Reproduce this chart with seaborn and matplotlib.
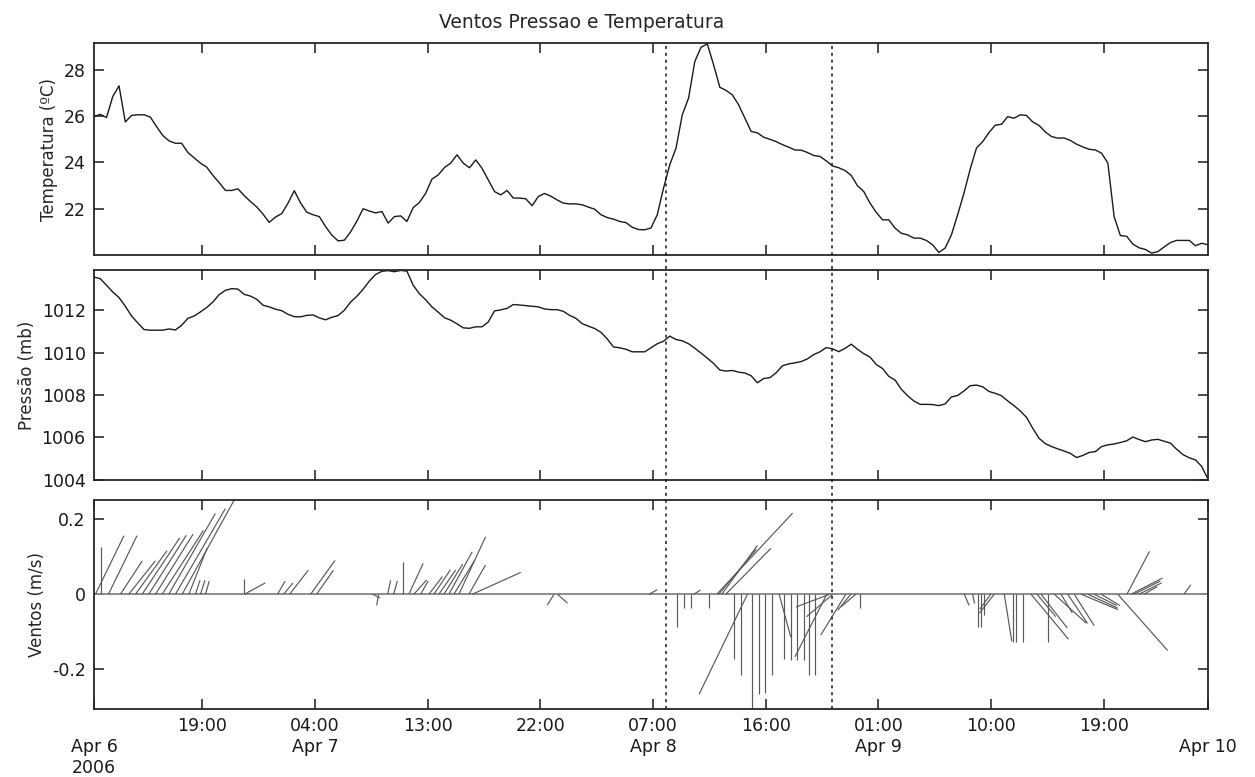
import numpy as np
import pandas as pd
import matplotlib
matplotlib.use("Agg")
import matplotlib.pyplot as plt
import matplotlib.dates as mdates
import matplotlib.transforms as mtransforms
from matplotlib.collections import LineCollection
from matplotlib.lines import Line2D
import seaborn as sns

# 30 min samples, Apr 6 2006 10:20 -> Apr 10 03:20
inicio = "2006-04-06 10:20"
n_amostras = 179

temperatura = [
    25.98, 26.08, 25.94, 26.85, 27.31, 25.75, 26.03, 26.06, 26.06, 25.96,
    25.55, 25.16, 24.93, 24.83, 24.83, 24.43, 24.20, 23.97, 23.80, 23.44,
    23.13, 22.79, 22.79, 22.86, 22.57, 22.31, 22.08, 21.77, 21.41, 21.64,
    21.79, 22.24, 22.78, 22.25, 21.85, 21.74, 21.66, 21.23, 20.86, 20.61,
    20.64, 21.00, 21.46, 22.00, 21.90, 21.82, 21.88, 21.38, 21.66, 21.69,
    21.45, 22.05, 22.27, 22.67, 23.28, 23.46, 23.78, 23.97, 24.33, 23.97,
    23.77, 24.11, 23.75, 23.25, 22.74, 22.60, 22.79, 22.46, 22.46, 22.43,
    22.13, 22.53, 22.66, 22.54, 22.38, 22.24, 22.21, 22.21, 22.17, 22.07,
    21.98, 21.74, 21.62, 21.55, 21.45, 21.40, 21.20, 21.10, 21.09, 21.17,
    21.74, 22.89, 23.90, 24.62, 26.06, 26.78, 28.36, 28.98, 29.12, 28.22,
    27.25, 27.11, 26.92, 26.49, 25.91, 25.34, 25.28, 25.09, 25.00, 24.90,
    24.77, 24.66, 24.54, 24.53, 24.43, 24.30, 24.26, 24.07, 23.85, 23.77,
    23.65, 23.44, 22.99, 22.74, 22.24, 21.84, 21.52, 21.52, 21.16, 20.94,
    20.87, 20.73, 20.73, 20.63, 20.44, 20.11, 20.30, 20.87, 21.74, 22.67,
    23.71, 24.62, 24.90, 25.29, 25.61, 25.65, 25.98, 25.91, 26.06, 26.03,
    25.75, 25.60, 25.32, 25.12, 25.05, 25.06, 24.95, 24.79, 24.67, 24.57,
    24.54, 24.40, 23.97, 21.66, 20.84, 20.81, 20.47, 20.31, 20.24, 20.08,
    20.15, 20.35, 20.54, 20.63, 20.63, 20.63, 20.40, 20.51, 20.44,
]

pressao = [
    1013.57, 1013.49, 1013.18, 1012.86, 1012.60, 1012.19, 1011.73, 1011.40, 1011.09, 1011.06,
    1011.06, 1011.06, 1011.12, 1011.07, 1011.29, 1011.62, 1011.73, 1011.92, 1012.13, 1012.39,
    1012.74, 1012.94, 1013.02, 1013.00, 1012.75, 1012.67, 1012.52, 1012.24, 1012.16, 1012.05,
    1011.98, 1011.81, 1011.70, 1011.69, 1011.76, 1011.78, 1011.64, 1011.55, 1011.67, 1011.75,
    1012.00, 1012.39, 1012.66, 1012.99, 1013.38, 1013.69, 1013.84, 1013.87, 1013.82, 1013.88,
    1013.85, 1013.18, 1012.78, 1012.49, 1012.16, 1011.91, 1011.65, 1011.53, 1011.36, 1011.17,
    1011.15, 1011.22, 1011.22, 1011.45, 1011.97, 1012.02, 1012.09, 1012.27, 1012.25, 1012.22,
    1012.19, 1012.16, 1012.06, 1012.03, 1012.03, 1011.95, 1011.76, 1011.62, 1011.37, 1011.25,
    1011.14, 1010.96, 1010.65, 1010.27, 1010.23, 1010.16, 1010.04, 1010.04, 1010.04, 1010.23,
    1010.42, 1010.54, 1010.78, 1010.62, 1010.56, 1010.42, 1010.21, 1009.98, 1009.74, 1009.49,
    1009.18, 1009.13, 1009.16, 1009.08, 1009.04, 1008.91, 1008.58, 1008.78, 1008.82, 1009.05,
    1009.38, 1009.47, 1009.52, 1009.58, 1009.71, 1009.91, 1010.04, 1010.24, 1010.18, 1010.05,
    1010.20, 1010.40, 1010.16, 1009.95, 1009.79, 1009.44, 1009.25, 1008.88, 1008.71, 1008.27,
    1007.97, 1007.72, 1007.56, 1007.56, 1007.55, 1007.50, 1007.58, 1007.91, 1007.98, 1008.19,
    1008.44, 1008.47, 1008.39, 1008.17, 1008.08, 1007.97, 1007.72, 1007.50, 1007.25, 1006.95,
    1006.43, 1005.96, 1005.71, 1005.57, 1005.46, 1005.36, 1005.25, 1005.05, 1005.15, 1005.29,
    1005.33, 1005.57, 1005.65, 1005.69, 1005.76, 1005.84, 1006.02, 1005.90, 1005.80, 1005.88,
    1005.91, 1005.82, 1005.73, 1005.44, 1005.19, 1005.04, 1004.94, 1004.63, 1004.03,
]

# wind sticks: hours since Apr 6 00:00, u and v components
vento_horas = [
    10.45, 10.93, 11.49, 12.45, 13.11, 13.65, 14.18, 14.71, 15.25, 15.78,
    16.31, 16.84, 17.38, 17.91, 18.44, 18.84, 19.24,
    22.28, 22.36, 25.00, 25.48, 25.96, 27.64, 28.12,
    32.59, 33.07, 33.79, 34.27, 34.99, 35.49, 35.89, 36.43, 37.09, 37.49,
    37.89, 38.29, 38.69, 39.09, 39.49, 40.29, 40.56,
    47.09, 47.36, 54.68,
    56.95, 57.48, 58.01, 58.25, 59.47, 60.09, 60.25, 60.49, 60.81, 61.47,
    62.01, 62.54, 62.94, 63.47, 63.95, 64.54, 65.07, 65.42, 66.01, 66.49,
    67.02, 67.47, 67.92, 68.88, 69.12, 69.36, 70.40, 70.80, 71.20, 71.55,
    79.86, 80.53, 80.98, 81.19, 81.41, 81.99, 82.26, 83.06, 83.73, 83.99,
    84.53, 85.19, 85.67, 85.99, 86.52, 87.05, 87.59, 88.12, 88.65, 89.19,
    89.72, 90.23, 90.79, 92.12, 92.86, 93.18, 93.42, 93.82, 94.22, 97.42,
]
vento_u = [
    0.076, 0.0, 0.076, 0.058, 0.071, 0.084, 0.10, 0.10, 0.10, 0.11,
    0.124, 0.133, 0.138, 0.049, 0.012, 0.012, 0.010,
    0.0, 0.055, 0.020, 0.025, 0.050, 0.065, 0.045,
    0.020, -0.005, 0.008, 0.010, 0.0, 0.038, 0.034, 0.020, 0.036, 0.044,
    0.045, 0.050, 0.062, 0.055, 0.071, 0.044, 0.129,
    -0.018, 0.027, 0.022,
    0.0, 0.0, 0.0, 0.018, 0.0, 0.202, 0.10, 0.095, 0.12, 0.0,
    0.0, -0.129, 0.0, 0.0, 0.0, 0.0, 0.031, 0.0, 0.0, 0.0,
    0.0, 0.0, 0.0, -0.085, -0.09, -0.07, -0.067, -0.035, -0.04, 0.0,
    0.013, 0.005, 0.0, 0.0, 0.0, -0.03, -0.04, 0.02, 0.0, 0.0,
    0.0, 0.10, 0.05, 0.07, 0.0, 0.085, 0.03, 0.053, 0.053, 0.098,
    0.08, 0.06, 0.05, 0.133, 0.06, 0.084, 0.07, 0.06, 0.035, 0.018,
]
vento_v = [
    0.156, 0.125, 0.156, 0.089, 0.089, 0.116, 0.15, 0.157, 0.16, 0.17,
    0.215, 0.228, 0.25, 0.123, 0.037, 0.037, 0.035,
    0.04, 0.03, 0.035, 0.03, 0.064, 0.09, 0.064,
    -0.01, -0.03, 0.037, 0.035, 0.087, 0.082, 0.038, 0.035, 0.047, 0.065,
    0.065, 0.08, 0.113, 0.09, 0.153, 0.078, 0.058,
    -0.029, -0.024, 0.012,
    -0.087, -0.038, -0.038, 0.011, -0.038, 0.216, 0.12, 0.13, 0.122, -0.174,
    -0.216, -0.267, -0.31, -0.265, -0.263, -0.216, -0.114, -0.174, -0.176, -0.176,
    -0.176, -0.216, -0.216, -0.167, -0.034, -0.06, -0.109, -0.043, -0.034, -0.036,
    -0.03, -0.025, -0.087, -0.087, -0.056, -0.04, -0.051, -0.126, -0.127, -0.127,
    -0.127, -0.12, -0.06, -0.09, -0.127, -0.077, -0.05, -0.078, -0.084, -0.041,
    -0.037, -0.03, -0.03, -0.15, 0.114, 0.043, 0.035, 0.03, 0.02, 0.025,
]

# dashed event markers
marcas = ["2006-04-08 08:00", "2006-04-08 21:20"]

sns.set_style("white")
plt.rcParams['font.family'] = ['DejaVu Sans']
plt.rcParams['font.size'] = 12.5

tempo = pd.date_range(inicio, periods=n_amostras, freq="30min")
df = pd.DataFrame({"tempo": tempo, "temperatura": temperatura, "pressao": pressao})

fig = plt.figure(figsize=(12.55, 7.77), dpi=100)
left, width = 94 / 1255, 1114 / 1255
ax1 = fig.add_axes([left, 0.6718, width, 0.2725])
ax2 = fig.add_axes([left, 0.3822, width, 0.2703])
ax3 = fig.add_axes([left, 0.0875, width, 0.2690])

sns.lineplot(data=df, x="tempo", y="temperatura", ax=ax1, color="0.1", lw=1.0)
sns.lineplot(data=df, x="tempo", y="pressao", ax=ax2, color="0.1", lw=1.0)

for ax in (ax1, ax2, ax3):
    ax.set_xlim(tempo[0], tempo[-1])

ax1.set_ylim(20.0, 29.15)
ax1.set_yticks([22, 24, 26, 28])
ax2.set_ylim(1003.99, 1013.9)
ax2.set_yticks([1004, 1006, 1008, 1010, 1012])
ax3.set_ylim(-0.306, 0.251)
ax3.set_yticks([-0.2, 0, 0.2])
ax3.set_yticklabels(["-0.2", "0", "0.2"])

# wind sticks, scaled so the direction is true on screen
ax3.axhline(0, color="0.55", lw=1.4, zorder=1)
t0 = pd.Timestamp("2006-04-06")
vt = t0 + pd.to_timedelta(vento_horas, unit="h")
xb = mdates.date2num(vt.to_pydatetime())
x0, x1 = ax3.get_xlim()
y0, y1 = ax3.get_ylim()
pos = ax3.get_position()
w_px = pos.width * fig.get_figwidth()
h_px = pos.height * fig.get_figheight()
k = (x1 - x0) / w_px * h_px / (y1 - y0)
segs = [[(x, 0.0), (x + u * k, v)] for x, u, v in zip(xb, vento_u, vento_v)]
ax3.add_collection(LineCollection(segs, colors="0.35", linewidths=0.85, zorder=2))

# x ticks every 9 hours
xt = pd.date_range("2006-04-06 19:00", periods=9, freq="9h")
labs = []
prev = None
for t in xt:
    lab = t.strftime("%H:%M")
    if prev is not None and t.day != prev.day:
        lab += "\n" + t.strftime("%b ") + str(t.day)
    labs.append(lab)
    prev = t

for ax in (ax1, ax2):
    ax.set_xticks(xt)
    ax.set_xticklabels([])
ax3.set_xticks(list(xt) + [tempo[0], tempo[-1]])
ax3.set_xticklabels(labs + ["\nApr 6\n2006", "\nApr 10"])

for ax in (ax1, ax2, ax3):
    ax.tick_params(direction="in", length=7, width=1.1, top=True, bottom=True,
                   left=True, right=True, labelsize=12.5, pad=6, colors="0.1")
    ax.set_xlabel("")
    ax.grid(False)
    for sp in ax.spines.values():
        sp.set_color("0.15")
        sp.set_linewidth(1.3)

ax1.set_ylabel("Temperatura (ºC)", fontsize=12)
ax2.set_ylabel("Pressão (mb)", fontsize=12)
ax3.set_ylabel("Ventos (m/s)", fontsize=12)

# dashed lines across all panels
trans = mtransforms.blended_transform_factory(ax3.transData, fig.transFigure)
for m in marcas:
    xm = mdates.date2num(pd.Timestamp(m).to_pydatetime())
    fig.add_artist(Line2D([xm, xm], [0.0875, 0.942], transform=trans,
                          color="0.1", lw=1.1, ls=(0, (2, 2.5))))

fig.text(582 / 1255, 1 - 22 / 777, "Ventos Pressao e Temperatura",
         ha="center", va="center", fontsize=13.5)

fig.savefig("out.png", dpi=100)
